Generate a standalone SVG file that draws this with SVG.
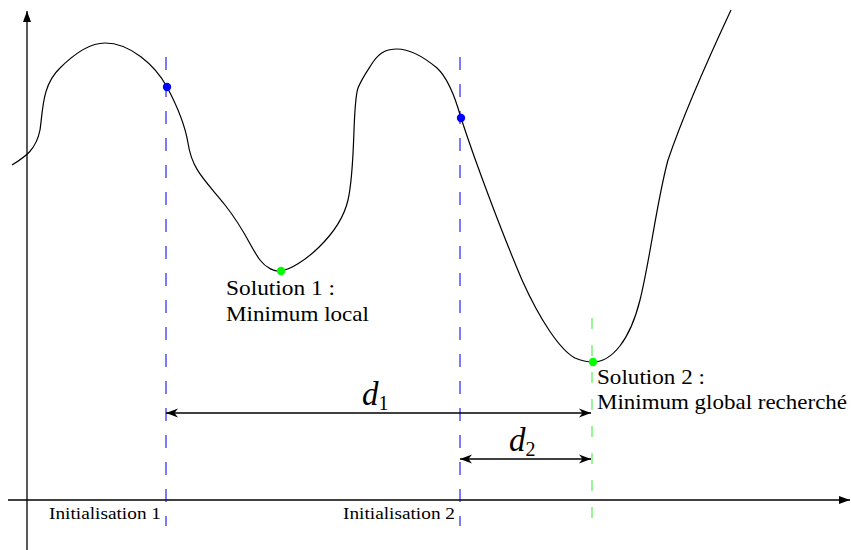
<svg xmlns="http://www.w3.org/2000/svg" width="851" height="550" viewBox="0 0 851 550">
<defs>
<style>
.axis{stroke:#000;stroke-width:1.3;fill:none}
.curve{stroke:#000;stroke-width:1.2;fill:none}
.vb{stroke:#0000ff;stroke-opacity:0.8;stroke-width:1.3;stroke-dasharray:13 14;fill:none}
.vg{stroke:#33ee33;stroke-width:1;stroke-dasharray:11 16;fill:none}
.dim{stroke:#000;stroke-width:1.3;fill:none}
.lbl{font-family:"Liberation Serif","DejaVu Serif",serif;fill:#000}
</style>
<marker id="ah" viewBox="-12 -6 14 12" markerWidth="14" markerHeight="12" refX="0" refY="0" orient="auto-start-reverse" markerUnits="userSpaceOnUse">
<path d="M0,0 L-12,-4.5 L-8.5,0 L-12,4.5 Z" fill="#000"/>
</marker>
<marker id="axh" viewBox="-12 -6 14 12" markerWidth="14" markerHeight="12" refX="0" refY="0" orient="auto" markerUnits="userSpaceOnUse">
<path d="M0,0 L-11,-4 L-11,4 Z" fill="#000"/>
</marker>
</defs>
<g id="axes">
<line class="axis" x1="27" y1="550" x2="27" y2="11" marker-end="url(#axh)"/>
<line class="axis" x1="8" y1="500" x2="850" y2="500" marker-end="url(#axh)"/>
</g>
<g id="guides">
<line class="vb" x1="166" y1="57" x2="166" y2="526"/>
<line class="vb" x1="460" y1="57" x2="460" y2="526"/>
<line class="vg" x1="592" y1="318" x2="592" y2="522"/>
</g>
<g id="curve">
<path class="curve" d="M12,165 C25,157 36,150 40,130 C43,110 42,85 60,68 C75,53 90,43 105,43 C130,43 155,65 167,87 C175,102 185,125 188,143 C192,170 205,180 225,205 C245,230 252,250 260,260 C266,268 275,272 281,271 C300,268 340,235 348,200 C356,165 352,105 358,88 C362,78 368,70 373,62 C380,52 387,49 397,49 C410,49 425,58 437,68 C448,78 456,100 461,118 C478,170 505,240 522,280 C540,320 560,350 575,358 C582,361 588,362 593,362 C612,362 630,340 640,300 C650,260 657,200 668,160 C685,110 710,55 731,10"/>
</g>
<g id="init1"><circle cx="167" cy="87" r="4.2" fill="#0000ff"/><text class="lbl" x="49" y="519" font-size="16.5" textLength="112" lengthAdjust="spacingAndGlyphs">Initialisation 1</text></g>
<g id="init2"><circle cx="461" cy="118" r="4.2" fill="#0000ff"/><text class="lbl" x="343" y="519" font-size="16.5" textLength="112" lengthAdjust="spacingAndGlyphs">Initialisation 2</text></g>
<g id="sol1"><circle cx="281" cy="271" r="4.2" fill="#00ff00"/>
<text class="lbl" x="226" y="295" font-size="21" textLength="109" lengthAdjust="spacingAndGlyphs">Solution 1 :</text>
<text class="lbl" x="226" y="321" font-size="21" textLength="143" lengthAdjust="spacingAndGlyphs">Minimum local</text></g>
<g id="sol2"><circle cx="593" cy="362" r="4.2" fill="#00ff00"/>
<text class="lbl" x="597" y="384" font-size="21" textLength="108" lengthAdjust="spacingAndGlyphs">Solution 2 :</text>
<text class="lbl" x="597" y="409" font-size="21" textLength="250" lengthAdjust="spacingAndGlyphs">Minimum global recherché</text></g>
<g id="connectors">
<line class="dim" x1="166" y1="413" x2="591" y2="413" marker-start="url(#ah)" marker-end="url(#ah)"/>
<line class="dim" x1="460" y1="459" x2="591" y2="459" marker-start="url(#ah)" marker-end="url(#ah)"/>
</g>
<g id="d1"><text class="lbl" x="362" y="405" font-size="33" font-style="italic">d<tspan font-size="20" font-style="normal" dy="5">1</tspan></text></g>
<g id="d2"><text class="lbl" x="509" y="451" font-size="33" font-style="italic">d<tspan font-size="20" font-style="normal" dy="5">2</tspan></text></g>
</svg>
